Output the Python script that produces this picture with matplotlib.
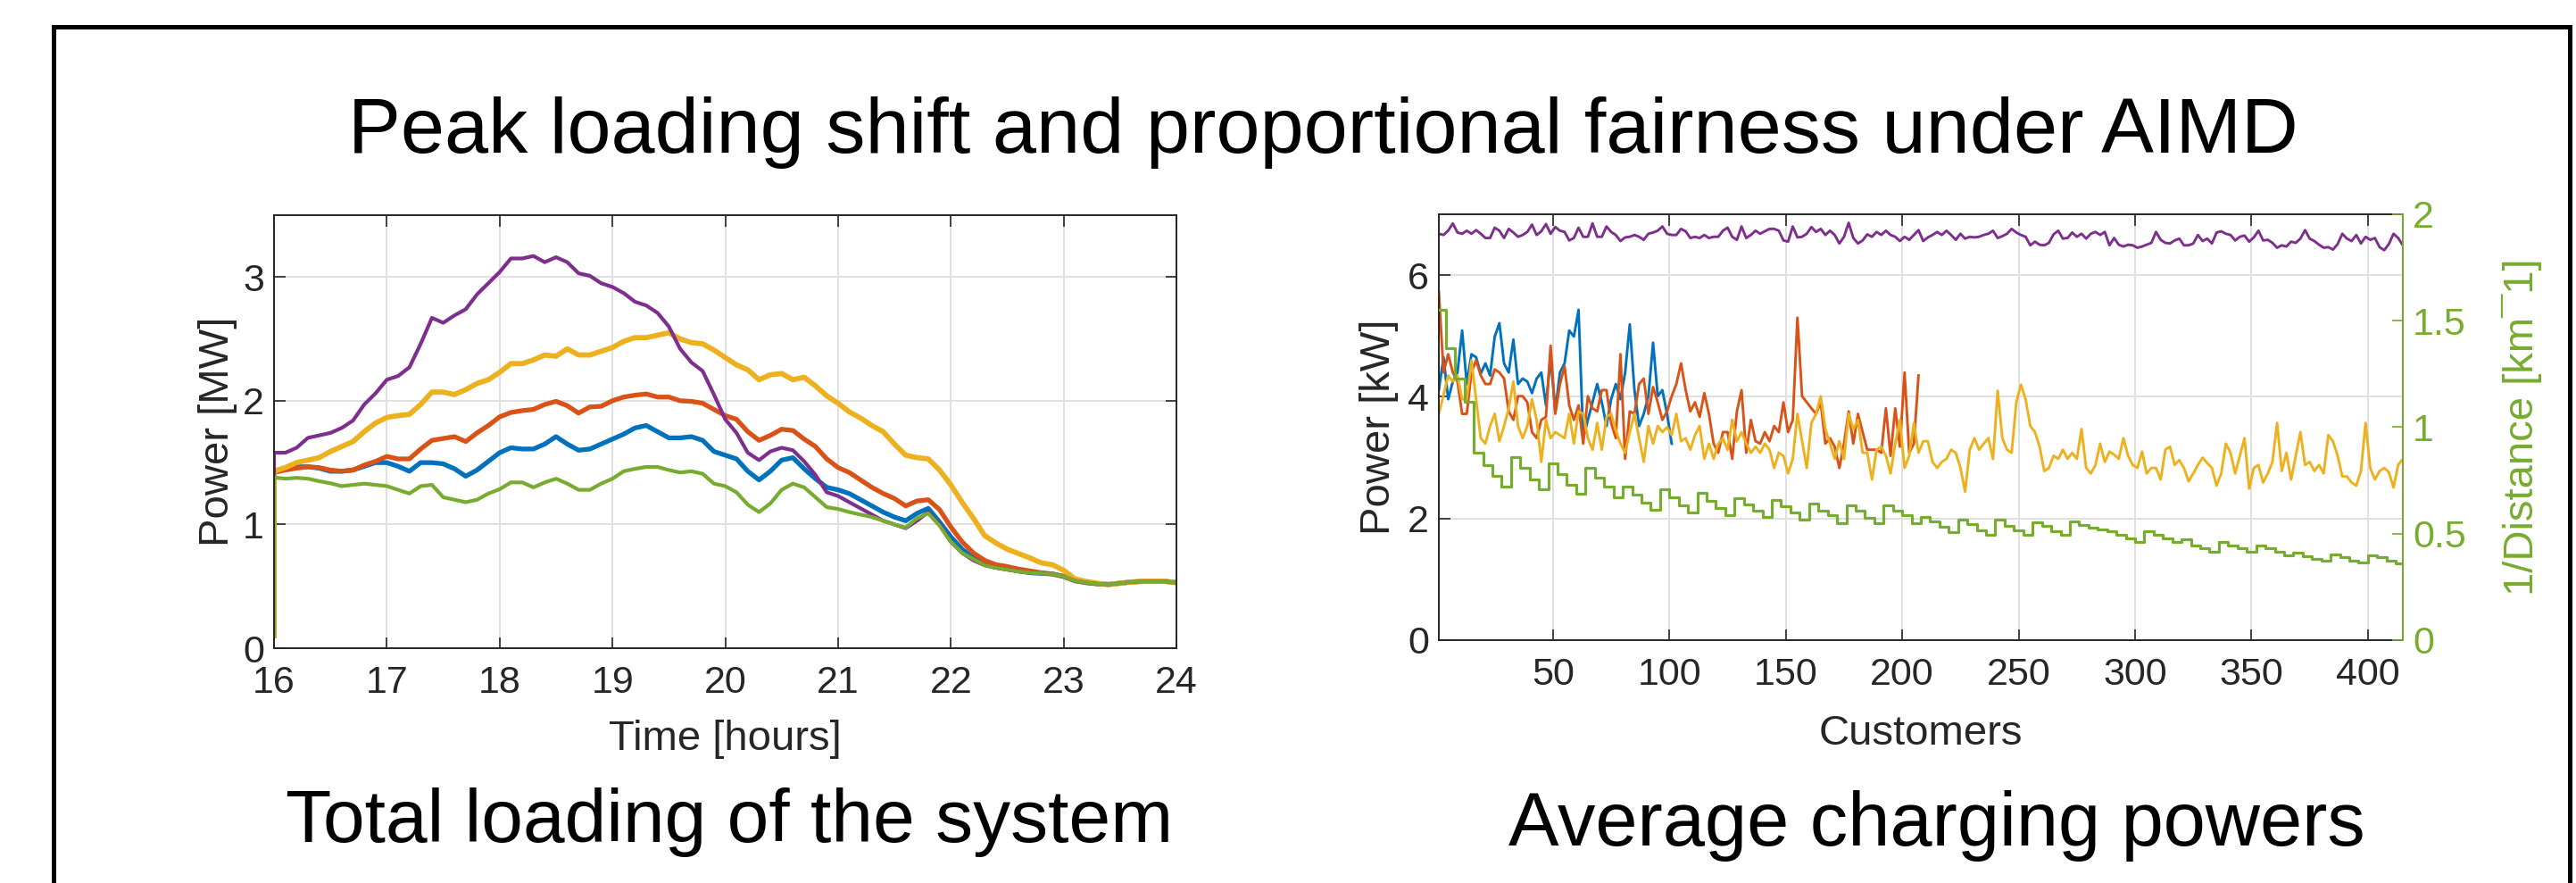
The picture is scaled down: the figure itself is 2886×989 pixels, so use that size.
import numpy as np
import matplotlib
matplotlib.use("Agg")
import matplotlib.pyplot as plt
from matplotlib.patches import Rectangle

plt.rcParams['font.family'] = ['Liberation Sans', 'DejaVu Sans']

# ---- left panel: total loading [MW], sampled every 0.1 h from 16:00 to 24:00
hours = np.round(np.arange(16.0, 24.0001, 0.1), 1)
start_mw = 0.1

blue_mw = [1.43, 1.455, 1.466, 1.466, 1.455, 1.43, 1.43, 1.44, 1.47, 1.50,
           1.50, 1.47, 1.43, 1.50, 1.50, 1.49, 1.45, 1.39, 1.44, 1.51,
           1.58, 1.62, 1.61, 1.61, 1.65, 1.71, 1.65, 1.60, 1.61, 1.65,
           1.69, 1.73, 1.78, 1.80, 1.75, 1.70, 1.70, 1.71, 1.68, 1.59,
           1.56, 1.53, 1.43, 1.36, 1.43, 1.52, 1.54, 1.45, 1.37, 1.30,
           1.28, 1.25, 1.20, 1.15, 1.10, 1.06, 1.03, 1.09, 1.13, 1.02,
           0.90, 0.80, 0.73, 0.68, 0.655, 0.64, 0.625, 0.61, 0.605, 0.60,
           0.58, 0.545, 0.53, 0.52, 0.515, 0.525, 0.535, 0.54, 0.54, 0.54,
           0.53]
orange_mw = [1.42, 1.44, 1.455, 1.466, 1.46, 1.44, 1.43, 1.44, 1.48, 1.51,
             1.55, 1.53, 1.53, 1.61, 1.68, 1.695, 1.71, 1.67, 1.74, 1.80,
             1.87, 1.905, 1.92, 1.93, 1.97, 1.995, 1.96, 1.90, 1.95, 1.955,
             2.00, 2.03, 2.045, 2.055, 2.03, 2.03, 2.00, 1.995, 1.98, 1.93,
             1.88, 1.85, 1.75, 1.68, 1.72, 1.77, 1.76, 1.69, 1.63, 1.53,
             1.46, 1.42, 1.36, 1.30, 1.25, 1.21, 1.15, 1.19, 1.20, 1.12,
             0.98, 0.86, 0.77, 0.71, 0.675, 0.66, 0.64, 0.625, 0.61, 0.60,
             0.58, 0.545, 0.53, 0.52, 0.515, 0.525, 0.535, 0.54, 0.54, 0.54,
             0.53]
yellow_mw = [1.43, 1.46, 1.50, 1.52, 1.54, 1.59, 1.63, 1.67, 1.75, 1.82,
             1.865, 1.88, 1.89, 1.97, 2.07, 2.07, 2.05, 2.09, 2.14, 2.17,
             2.23, 2.30, 2.30, 2.33, 2.37, 2.36, 2.42, 2.37, 2.37, 2.40,
             2.43, 2.48, 2.51, 2.51, 2.53, 2.55, 2.50, 2.47, 2.46, 2.41,
             2.35, 2.29, 2.25, 2.17, 2.21, 2.22, 2.17, 2.19, 2.12, 2.04,
             1.98, 1.91, 1.86, 1.80, 1.75, 1.65, 1.56, 1.54, 1.53, 1.44,
             1.32, 1.18, 1.05, 0.91, 0.85, 0.80, 0.765, 0.73, 0.69, 0.675,
             0.63, 0.56, 0.54, 0.525, 0.515, 0.525, 0.535, 0.54, 0.54, 0.54,
             0.53]
purple_mw = [1.58, 1.58, 1.62, 1.70, 1.72, 1.74, 1.78, 1.84, 1.97, 2.06,
             2.17, 2.20, 2.27, 2.46, 2.67, 2.63, 2.69, 2.74, 2.86, 2.95,
             3.04, 3.15, 3.15, 3.17, 3.12, 3.16, 3.12, 3.03, 3.01, 2.95,
             2.92, 2.87, 2.80, 2.77, 2.71, 2.60, 2.42, 2.31, 2.24, 2.05,
             1.85, 1.74, 1.58, 1.52, 1.59, 1.62, 1.60, 1.51, 1.40, 1.26,
             1.23, 1.18, 1.13, 1.08, 1.03, 1.00, 0.97, 1.03, 1.10, 1.00,
             0.86, 0.77, 0.71, 0.67, 0.65, 0.635, 0.62, 0.61, 0.605, 0.60,
             0.58, 0.545, 0.53, 0.52, 0.515, 0.525, 0.535, 0.54, 0.54, 0.54,
             0.53]
green_mw = [1.38, 1.37, 1.377, 1.37, 1.35, 1.333, 1.31, 1.32, 1.33, 1.32,
            1.31, 1.28, 1.25, 1.31, 1.32, 1.22, 1.20, 1.18, 1.20, 1.25,
            1.285, 1.34, 1.34, 1.30, 1.34, 1.37, 1.33, 1.28, 1.28, 1.33,
            1.37, 1.43, 1.45, 1.465, 1.465, 1.44, 1.42, 1.43, 1.41, 1.33,
            1.31, 1.26, 1.16, 1.10, 1.17, 1.28, 1.33, 1.30, 1.22, 1.14,
            1.125, 1.10, 1.08, 1.06, 1.03, 1.00, 0.975, 1.05, 1.09, 0.99,
            0.86, 0.77, 0.72, 0.67, 0.65, 0.635, 0.62, 0.61, 0.605, 0.60,
            0.58, 0.545, 0.53, 0.52, 0.515, 0.525, 0.535, 0.54, 0.54, 0.54,
            0.53]

# ---- right panel: average charging power [kW] per customer (every 2nd customer)
customers = np.arange(1, 416, 2)

blue_kw = [4.11, 4.65, 3.96, 4.25, 4.40, 5.09, 4.21, 4.70, 4.65, 4.38,
           4.55, 4.35, 4.99, 5.21, 4.55, 4.40, 4.94, 4.21, 4.30, 4.25,
           4.06, 4.30, 4.40, 3.86, 4.65, 3.76, 4.40, 4.55, 5.09, 4.99,
           5.43, 3.32, 3.62, 3.91, 4.21, 3.91, 3.52, 3.96, 4.21, 3.96,
           4.40, 5.19, 4.11, 3.52, 3.72, 4.01, 4.89, 4.01, 4.11, 3.72,
           3.23]
orange_kw = [5.73, 4.40, 4.70, 4.40, 4.25, 3.72, 3.72, 4.40, 4.60, 4.35,
             4.21, 4.21, 4.45, 4.40, 4.30, 3.76, 3.62, 4.01, 4.01, 3.91,
             3.42, 3.32, 3.62, 3.67, 4.84, 3.72, 4.21, 4.50, 3.86, 3.62,
             3.86, 3.23, 4.01, 3.81, 3.76, 4.11, 4.11, 3.57, 3.32, 4.70,
             2.98, 3.76, 3.72, 4.21, 4.30, 3.72, 4.16, 3.91, 3.62, 3.76,
             4.01, 4.21, 4.55, 4.11, 3.76, 3.91, 3.67, 4.06, 3.72, 3.23,
             3.08, 3.42, 3.42, 2.98, 3.76, 4.11, 3.08, 3.62,
             3.27, 3.23, 3.42, 3.27, 3.52, 3.42, 3.91, 3.42, 3.62, 5.30,
             4.01, 3.91, 3.81, 3.72, 3.91, 3.23, 3.32, 3.18, 2.83, 3.23,
             3.76, 3.23, 3.72, 3.42, 3.13, 3.13, 3.13, 3.08, 3.81, 3.03,
             3.81, 3.18, 4.40, 3.08, 3.23, 4.35]
yellow_kw = [3.72, 4.03, 4.35, 4.25, 4.35, 3.96, 3.96, 4.60, 3.96, 3.32,
             3.23, 3.52, 3.72, 3.27, 3.52, 3.81, 4.25, 3.52, 3.32, 3.52,
             3.96, 3.62, 2.93, 3.62, 3.32, 3.42, 3.37, 3.32, 3.72, 3.23,
             3.76, 3.72, 3.32, 3.13, 3.57, 3.13, 3.67, 3.72, 3.45, 3.23,
             3.08, 3.42, 3.72, 3.32, 2.93, 3.52, 3.23, 3.52, 3.42, 3.50,
             3.37, 3.72, 3.27, 3.32, 3.13, 3.37, 3.52, 2.98, 3.23, 2.98,
             3.23, 3.32, 3.13, 3.62, 3.27, 3.42, 3.23, 3.08,
             3.18, 3.08, 3.23, 3.13, 2.83, 3.08, 3.03, 2.74, 2.98, 3.72,
             3.27, 2.83, 3.57, 3.72, 4.01, 3.47, 3.23, 2.98, 3.27, 2.98,
             3.72, 3.47, 3.62, 3.08, 3.08, 2.64, 3.13, 3.18, 3.03, 2.74,
             3.23, 3.62, 2.83, 3.03, 3.57, 3.08, 3.27, 3.27, 2.93, 2.83,
             2.93, 2.98, 3.13, 3.08, 2.83, 2.44, 3.13, 3.32, 3.13, 3.23,
             3.32, 2.98, 4.10, 3.32, 3.13, 3.08, 3.91, 4.20, 3.96, 3.52,
             3.42, 3.18, 2.78, 2.83, 3.03, 2.98, 3.13, 2.98, 3.08,
             2.98, 3.47, 2.83, 2.74, 2.88, 3.23, 2.93, 3.10, 3.05, 2.98,
             3.32, 3.03, 2.88, 2.83, 3.10, 2.74, 2.83, 2.83, 2.64, 3.13,
             3.18, 2.88, 2.96, 2.83, 2.61, 2.74, 2.88, 3.00, 2.91, 2.83,
             2.54, 2.74, 3.23, 3.08, 2.74, 3.03, 3.32, 2.49, 2.83, 2.88,
             2.59, 2.74, 2.93, 3.57, 2.78, 3.08, 2.64, 3.03, 3.42, 2.88,
             2.93, 2.78, 2.88, 2.74, 3.37, 3.27, 3.03, 2.69, 2.69, 2.59,
             2.54, 2.78, 3.57, 2.83, 2.64, 2.78, 2.83, 2.76, 2.51, 2.88,
             2.98]
purple_kw = [6.68, 6.66, 6.73, 6.85, 6.70, 6.68, 6.73, 6.68, 6.74, 6.68,
             6.61, 6.61, 6.78, 6.73, 6.61, 6.76, 6.70, 6.63, 6.66, 6.71,
             6.83, 6.66, 6.72, 6.84, 6.68, 6.79, 6.73, 6.71, 6.57, 6.61,
             6.78, 6.63, 6.63, 6.85, 6.63, 6.63, 6.80, 6.71, 6.66, 6.56,
             6.62, 6.63, 6.66, 6.63, 6.58, 6.68, 6.70, 6.73, 6.80, 6.68,
             6.66, 6.66, 6.76, 6.72, 6.61, 6.63, 6.61, 6.66, 6.61, 6.63,
             6.63, 6.73, 6.78, 6.63, 6.58, 6.80, 6.61, 6.66,
             6.73, 6.68, 6.72, 6.76, 6.76, 6.73, 6.57, 6.55, 6.80, 6.62,
             6.63, 6.68, 6.79, 6.71, 6.76, 6.66, 6.73, 6.66, 6.52, 6.63,
             6.86, 6.61, 6.52, 6.57, 6.67, 6.63, 6.71, 6.66, 6.73, 6.66,
             6.63, 6.56, 6.63, 6.58, 6.66, 6.74, 6.56, 6.62, 6.66, 6.71,
             6.66, 6.73, 6.66, 6.58, 6.68, 6.60, 6.63, 6.62, 6.63, 6.66,
             6.68, 6.73, 6.61, 6.64, 6.68, 6.76, 6.70, 6.66, 6.63, 6.49,
             6.55, 6.50, 6.49, 6.53, 6.67, 6.73, 6.60, 6.61, 6.70,
             6.63, 6.68, 6.60, 6.68, 6.71, 6.66, 6.71, 6.49, 6.61, 6.50,
             6.47, 6.50, 6.49, 6.45, 6.47, 6.50, 6.53, 6.71, 6.58, 6.53,
             6.52, 6.57, 6.60, 6.49, 6.49, 6.52, 6.66, 6.56, 6.60, 6.52,
             6.70, 6.72, 6.68, 6.66, 6.57, 6.63, 6.65, 6.55, 6.62, 6.73,
             6.57, 6.58, 6.53, 6.45, 6.49, 6.47, 6.55, 6.53, 6.60, 6.74,
             6.60, 6.56, 6.50, 6.45, 6.46, 6.42, 6.51, 6.68, 6.60, 6.56,
             6.66, 6.52, 6.63, 6.58, 6.61, 6.46, 6.41, 6.51, 6.68, 6.61,
             6.49]

# 1/distance [1/km], piecewise constant in blocks of customers
green_start = [1] + list(range(4, 413, 4))
green_inv_km = [1.55, 1.37, 1.23, 1.12, 0.88, 0.82, 0.77, 0.72,
                0.86, 0.81, 0.756, 0.71, 0.83, 0.78, 0.73, 0.686,
                0.81, 0.765, 0.72, 0.67, 0.72, 0.683, 0.644, 0.613,
                0.71, 0.67, 0.634, 0.60, 0.69, 0.655, 0.62, 0.588,
                0.667, 0.637, 0.61, 0.578, 0.658, 0.627, 0.60, 0.564,
                0.641, 0.606, 0.585, 0.55, 0.634, 0.606, 0.574, 0.55,
                0.634, 0.606, 0.585, 0.55, 0.578, 0.557, 0.532, 0.508,
                0.564, 0.543, 0.515, 0.494, 0.564, 0.536, 0.515, 0.494,
                0.555, 0.536, 0.513, 0.494, 0.557, 0.54, 0.53, 0.52,
                0.51, 0.494, 0.476, 0.46, 0.51, 0.494, 0.476, 0.46,
                0.474, 0.445, 0.431, 0.417, 0.462, 0.445, 0.431, 0.415,
                0.445, 0.431, 0.417, 0.40, 0.41, 0.396, 0.382, 0.375,
                0.403, 0.389, 0.375, 0.364, 0.40, 0.389, 0.375, 0.361]
last_customer = 416

BLUE, ORANGE, YELLOW = '#0072BD', '#D95319', '#EDB120'
PURPLE, GREEN = '#7E2F8E', '#77AC30'
INK = '#262626'

W, H = 2886, 989


def box(l, t, r, b):
    return [l / W, 1 - b / H, (r - l) / W, (b - t) / H]


def matlab_axes(ax):
    ax.grid(True, color='#e0e0e0', lw=1.4)
    ax.set_axisbelow(True)
    for s in ax.spines.values():
        s.set_color(INK)
        s.set_linewidth(1.4)
    ax.tick_params(direction='in', length=9, width=1.2, colors=INK, labelsize=31)
    ax.tick_params(axis='x', pad=14)
    ax.tick_params(axis='y', pad=8)


fig = plt.figure(figsize=(W / 100, H / 100), dpi=100)

# ---------------- left: total loading
ax1 = fig.add_axes(box(307, 241, 1318, 726))
matlab_axes(ax1)
ax1.tick_params(top=True, right=True)
t = np.r_[16.0, hours]
for vals, col, lw in [(blue_mw, BLUE, 3.8), (orange_mw, ORANGE, 3.8),
                      (yellow_mw, YELLOW, 4.2), (purple_mw, PURPLE, 3.0),
                      (green_mw, GREEN, 3.0)]:
    ax1.plot(t, np.r_[start_mw, vals], color=col, lw=lw)
ax1.set_xlim(16, 24)
ax1.set_ylim(0, 3.5)
ax1.set_xticks(range(16, 25))
ax1.set_yticks([0, 1, 2, 3])
ax1.set_xlabel('Time [hours]', fontsize=34, color=INK)
ax1.set_ylabel('Power [MW]', fontsize=34, color=INK)
ax1.yaxis.label.set_va('center')
ax1.xaxis.label.set_va('center')
ax1.yaxis.set_label_coords((244 - 307) / 1011, 0.5)
ax1.xaxis.set_label_coords(0.5, (726 - 828) / 485)

# ---------------- right: average charging powers
ax2 = fig.add_axes(box(1612, 240, 2692, 717))
matlab_axes(ax2)
ax2.tick_params(top=True, right=False)
ax2.plot(customers[:len(blue_kw)], blue_kw, color=BLUE, lw=2.1)
ax2.plot(customers[:len(orange_kw)], orange_kw, color=ORANGE, lw=2.1)
ax2.plot(customers[:len(yellow_kw)], yellow_kw, color=YELLOW, lw=2.1)
ax2.plot(customers[:len(purple_kw)], purple_kw, color=PURPLE, lw=2.1)
ax2.set_xlim(1, 415)
ax2.set_ylim(0, 7)
ax2.set_xticks(range(50, 401, 50))
ax2.set_yticks([0, 2, 4, 6])
ax2.set_xlabel('Customers', fontsize=34, color=INK)
ax2.set_ylabel('Power [kW]', fontsize=34, color=INK)
ax2.yaxis.label.set_va('center')
ax2.xaxis.label.set_va('center')
ax2.yaxis.set_label_coords((1545 - 1612) / 1080, 0.5)
ax2.xaxis.set_label_coords(0.5, (717 - 822) / 477)

ax3 = ax2.twinx()
ax3.step(green_start + [last_customer], green_inv_km + [green_inv_km[-1]],
         where='post', color=GREEN, lw=2.3)
ax3.set_ylim(0, 2)
ax3.set_yticks([0, 0.5, 1, 1.5, 2])
ax3.set_yticklabels(['0', '0.5', '1', '1.5', '2'])
for side in ['left', 'top', 'bottom']:
    ax3.spines[side].set_visible(False)
ax3.spines['right'].set_color(GREEN)
ax3.spines['right'].set_linewidth(1.4)
ax3.tick_params(axis='y', direction='in', length=9, width=1.2, colors=GREEN,
                labelsize=31, pad=8)
ax3.set_ylabel('1/Distance [km\u00af1]', fontsize=34, color=GREEN)
ax3.yaxis.label.set_va('center')
ax3.yaxis.set_label_coords((2825 - 1612) / 1080, 0.5)

# ---------------- titles and frame
fig.text(1482 / W, 1 - 171 / H, 'Peak loading shift and proportional fairness under AIMD',
         ha='center', va='baseline', fontsize=63.5)
fig.text(817 / W, 1 - 943 / H, 'Total loading of the system',
         ha='center', va='baseline', fontsize=60.5)
fig.text(2170 / W, 1 - 947 / H, 'Average charging powers',
         ha='center', va='baseline', fontsize=61)

x0, x1, top = 59.5 / W, 2878.5 / W, 1 - 29.5 / H
fig.add_artist(Rectangle((x0, -0.1), x1 - x0, top + 0.1, transform=fig.transFigure,
                         fill=False, ec='black', lw=3.6, joinstyle='miter'))

fig.savefig('out.png', dpi=100)
